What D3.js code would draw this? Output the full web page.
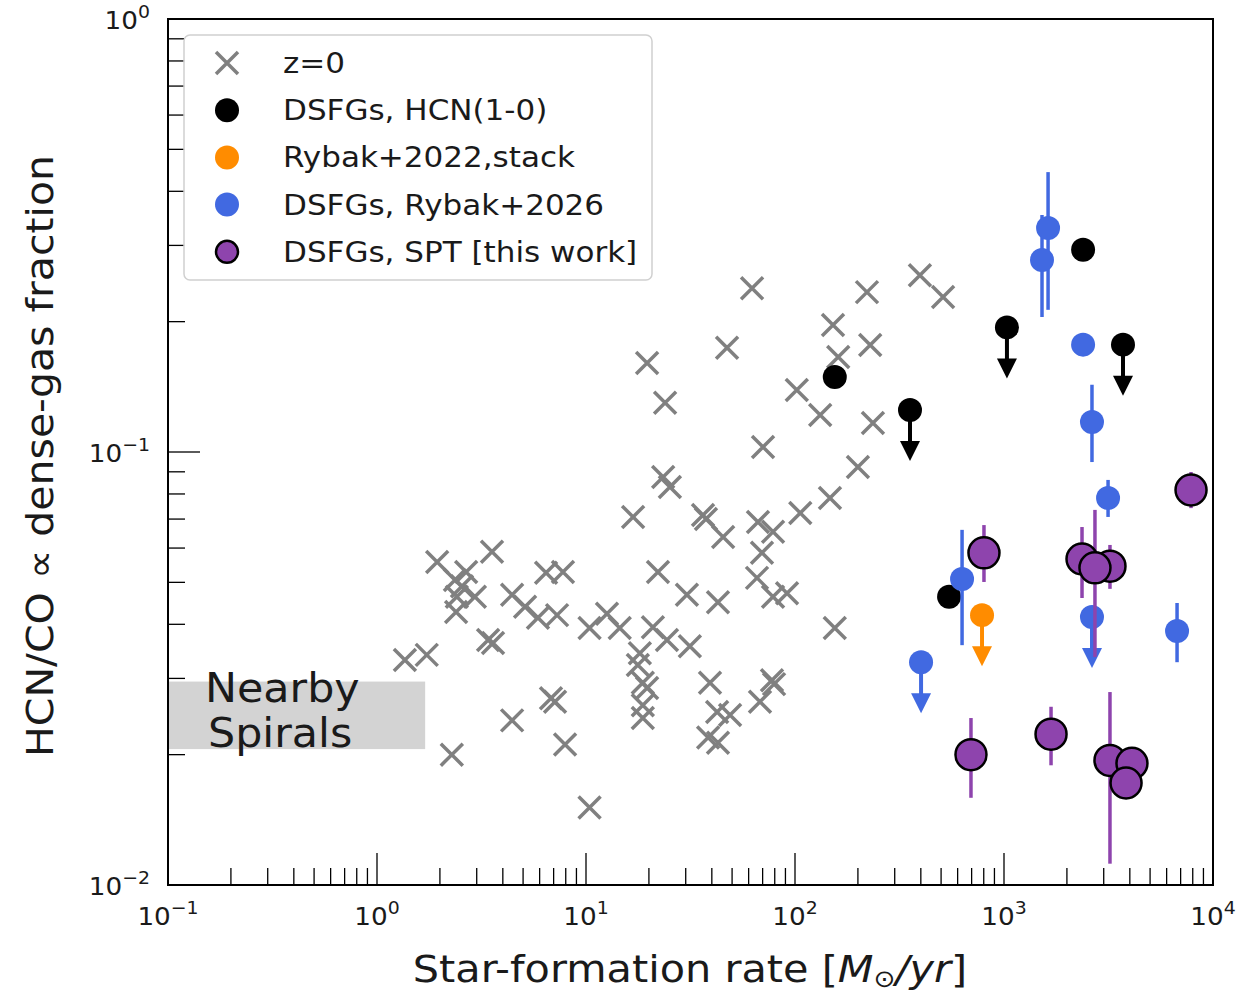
<!DOCTYPE html>
<html>
<head>
<meta charset="utf-8">
<script src="https://cdn.jsdelivr.net/npm/d3@7"></script>
<style>
  body { margin: 0; background: #fff; }
  svg { font-family: "DejaVu Sans", sans-serif; }
</style>
</head>
<body>
<div id="chart"></div>
<script>
// Plot area settings
const margin = { top: 19, right: 30, bottom: 113, left: 168 },
    width = 1243 - margin.left - margin.right,
    height = 998 - margin.top - margin.bottom;

// z=0 galaxies: star-formation rate and HCN/CO
const z0_sfr = [1.36, 1.73, 1.94, 2.28, 2.36, 2.55, 2.41, 2.39, 2.67, 2.94,
    3.55, 3.40, 3.59, 4.43, 4.43, 5.11, 5.89, 6.44, 7.76, 7.27,
    6.80, 7.11, 7.94, 10.4, 10.4, 12.6, 14.5, 16.8, 18.1, 17.7,
    18.7, 19.6, 18.7, 18.7, 19.6, 20.9, 22.1, 23.4, 25.2, 23.9,
    24.4, 31.4, 30.4, 36.3, 37.5, 39.2, 42.4, 48.9, 38.4, 42.8,
    42.8, 45.3, 47.3, 62.3, 65.8, 66.5, 69.5, 70.3, 68.0, 77.6,
    79.4, 78.5, 78.5, 91.6, 102, 106, 132, 147, 152, 155,
    161, 200, 221, 229, 236, 396, 511];
const z0_frac = [0.0331, 0.0340, 0.0557, 0.0200, 0.0506, 0.0490, 0.0463, 0.0427, 0.0528, 0.0463,
    0.0588, 0.0368, 0.0362, 0.0468, 0.0240, 0.0439, 0.0414, 0.0526, 0.0528, 0.0420,
    0.0270, 0.0265, 0.0211, 0.0151, 0.0392, 0.0423, 0.0392, 0.0708, 0.0343, 0.0322,
    0.0293, 0.0285, 0.0260, 0.0243, 0.1605, 0.0394, 0.0528, 0.0875, 0.0830, 0.130,
    0.0368, 0.0356, 0.0468, 0.0715, 0.0700, 0.0293, 0.0251, 0.0247, 0.0219, 0.0213,
    0.0450, 0.0636, 0.174, 0.239, 0.0512, 0.0689, 0.0585, 0.1027, 0.0265, 0.0297,
    0.0291, 0.0654, 0.0463, 0.0472, 0.139, 0.0723, 0.1218, 0.0783, 0.1965, 0.0392,
    0.1658, 0.0923, 0.234, 0.1767, 0.1167, 0.256, 0.228];

// DSFGs, HCN(1-0)
const hcn_sfr = [155, 355, 1033, 2390, 3710, 546];
const hcn_frac = [0.149, 0.125, 0.194, 0.293, 0.177, 0.0463];
const hcn_uplim = [false, true, true, false, true, false];

// Rybak+2022 stack
const stack_sfr = [785];
const stack_frac = [0.042];
const stack_uplim = [true];

// DSFGs, Rybak+2026
const ryb_sfr = [1625, 1520, 2390, 2636, 3147, 630, 401, 2636, 6730];
const ryb_frac = [0.329, 0.2776, 0.177, 0.1173, 0.0783, 0.0509, 0.0327, 0.0416, 0.0386];
const ryb_lo = [0.213, 0.205, null, 0.0948, 0.0708, 0.0358, null, null, 0.0327];
const ryb_hi = [0.443, 0.3526, null, 0.143, 0.0862, 0.0661, null, null, 0.0448];
const ryb_uplim = [false, false, false, false, false, false, true, true, false];

// DSFGs, SPT [this work]
const spt_sfr = [7850, 802, 2362, 3214, 2724, 695, 1679, 3214, 4095, 3837];
const spt_frac = [0.0817, 0.0585, 0.0566, 0.0545, 0.0540, 0.0200, 0.0223, 0.0194, 0.0191, 0.0172];
const spt_lo = [0.0742, 0.0501, 0.0460, 0.0483, 0.0336, 0.0159, 0.0189, 0.0112, null, null];
const spt_hi = [0.0899, 0.0678, 0.0671, 0.0610, 0.0735, 0.0243, 0.0258, 0.0279, null, null];

// Nearby spirals band
const spiral_sfr = [0.1, 1.7];
const spiral_frac = [0.0206, 0.0295];

// Axis ticks
const xMajor = [0.1, 1, 10, 100, 1000, 10000];
const xExp = ["\u22121", "0", "1", "2", "3", "4"];
const yMajor = [0.01, 0.1, 1];
const yExp = ["\u22122", "\u22121", "0"];

const legendLabels = ["z=0", "DSFGs, HCN(1-0)", "Rybak+2022,stack", "DSFGs, Rybak+2026", "DSFGs, SPT [this work]"];

const BLUE = "#4169e1", PURPLE = "#8e44ad", ORANGE = "#ff8c00", GRAY = "#808080";
const TXT = "#1a1a1a";

const svg = d3.select("#chart").append("svg")
    .attr("width", 1243)
    .attr("height", 998);

const g = svg.append("g")
    .attr("transform", `translate(${margin.left},${margin.top})`);

const x = d3.scaleLog().domain([0.1, 10000]).range([0, width]);
const y = d3.scaleLog().domain([0.01, 1]).range([height, 0]);

// text helper with a slight horizontal stretch, like the original figure
function stretchText(parent, px, py, sx, size) {
    return parent.append("text")
        .attr("transform", `translate(${px},${py}) scale(${sx},1)`)
        .attr("font-size", size)
        .attr("fill", TXT);
}

// clip for data
g.append("clipPath").attr("id", "clip")
    .append("rect").attr("width", width).attr("height", height);
const plot = g.append("g").attr("clip-path", "url(#clip)");

// Nearby spirals box
plot.append("rect")
    .attr("x", x(spiral_sfr[0]))
    .attr("y", y(spiral_frac[1]))
    .attr("width", x(spiral_sfr[1]) - x(spiral_sfr[0]))
    .attr("height", y(spiral_frac[0]) - y(spiral_frac[1]))
    .attr("fill", "#d3d3d3");

// minor ticks
function minors(lo, hi) {
    const out = [];
    for (let e = lo; e < hi; e++) {
        for (let k = 2; k <= 9; k++) out.push(k * Math.pow(10, e));
    }
    return out;
}
const xMinor = minors(-1, 4);
const yMinor = minors(-2, 0);

const ticks = g.append("g").attr("stroke", "#000").attr("stroke-width", 1.3);
ticks.selectAll(".xmin").data(xMinor).join("line")
    .attr("x1", d => x(d)).attr("x2", d => x(d))
    .attr("y1", height).attr("y2", height - 17);
ticks.selectAll(".xmaj").data(xMajor).join("line")
    .attr("x1", d => x(d)).attr("x2", d => x(d))
    .attr("y1", height).attr("y2", height - 32);
ticks.selectAll(".ymin").data(yMinor).join("line")
    .attr("x1", 0).attr("x2", 17)
    .attr("y1", d => y(d)).attr("y2", d => y(d));
ticks.selectAll(".ymaj").data(yMajor).join("line")
    .attr("x1", 0).attr("x2", 32)
    .attr("y1", d => y(d)).attr("y2", d => y(d));

// tick labels
xMajor.forEach((d, i) => {
    const t = stretchText(g, x(d), height + 40, 1.05, 25).attr("text-anchor", "middle");
    t.append("tspan").text("10");
    t.append("tspan").attr("dy", -11).attr("font-size", 18).text(xExp[i]);
});
yMajor.forEach((d, i) => {
    const t = stretchText(g, -18, y(d) + 10, 1.05, 25).attr("text-anchor", "end");
    t.append("tspan").text("10");
    t.append("tspan").attr("dy", -11).attr("font-size", 18).text(yExp[i]);
});

// z=0 crosses
const cr = 11;
plot.append("g").selectAll("path").data(z0_sfr).join("path")
    .attr("d", (d, i) => {
        const cx = x(d), cy = y(z0_frac[i]);
        return `M${cx - cr},${cy - cr}L${cx + cr},${cy + cr}M${cx - cr},${cy + cr}L${cx + cr},${cy - cr}`;
    })
    .attr("stroke", GRAY)
    .attr("stroke-width", 3.5)
    .attr("fill", "none");

// upper-limit arrow
function arrow(layer, cx, cy, color) {
    layer.append("line")
        .attr("x1", cx).attr("x2", cx)
        .attr("y1", cy).attr("y2", cy + 34)
        .attr("stroke", color).attr("stroke-width", 4);
    layer.append("path")
        .attr("d", `M${cx - 10},${cy + 31}L${cx + 10},${cy + 31}L${cx},${cy + 51}Z`)
        .attr("fill", color);
}

function errbars(layer, xs, lo, hi, color) {
    layer.selectAll(null).data(xs.map((d, i) => i).filter(i => lo[i] != null)).join("line")
        .attr("x1", i => x(xs[i])).attr("x2", i => x(xs[i]))
        .attr("y1", i => y(hi[i])).attr("y2", i => y(lo[i]))
        .attr("stroke", color).attr("stroke-width", 3.5);
}

// HCN(1-0)
const hcnG = plot.append("g");
hcn_sfr.forEach((d, i) => {
    if (hcn_uplim[i]) arrow(hcnG, x(d), y(hcn_frac[i]), "#000");
});
hcnG.selectAll("circle").data(hcn_sfr).join("circle")
    .attr("cx", d => x(d)).attr("cy", (d, i) => y(hcn_frac[i]))
    .attr("r", 12).attr("fill", "#000");

// stack
const stG = plot.append("g");
stack_sfr.forEach((d, i) => {
    if (stack_uplim[i]) arrow(stG, x(d), y(stack_frac[i]), ORANGE);
});
stG.selectAll("circle").data(stack_sfr).join("circle")
    .attr("cx", d => x(d)).attr("cy", (d, i) => y(stack_frac[i]))
    .attr("r", 12).attr("fill", ORANGE);

// Rybak+2026
const rbG = plot.append("g");
errbars(rbG, ryb_sfr, ryb_lo, ryb_hi, BLUE);
ryb_sfr.forEach((d, i) => {
    if (ryb_uplim[i]) arrow(rbG, x(d), y(ryb_frac[i]), BLUE);
});
rbG.selectAll("circle").data(ryb_sfr).join("circle")
    .attr("cx", d => x(d)).attr("cy", (d, i) => y(ryb_frac[i]))
    .attr("r", 12).attr("fill", BLUE);

// SPT
const sptG = plot.append("g");
errbars(sptG, spt_sfr, spt_lo, spt_hi, PURPLE);
sptG.selectAll("circle").data(spt_sfr).join("circle")
    .attr("cx", d => x(d)).attr("cy", (d, i) => y(spt_frac[i]))
    .attr("r", 15.5).attr("fill", PURPLE)
    .attr("stroke", "#000").attr("stroke-width", 2.5);

// frame
g.append("rect")
    .attr("width", width).attr("height", height)
    .attr("fill", "none").attr("stroke", "#000").attr("stroke-width", 2);

// Nearby spirals text
const spx = x(spiral_sfr[0]);
stretchText(g, spx + 37, y(spiral_frac[1]) + 20, 1.07, 40).text("Nearby");
stretchText(g, spx + 40, y(spiral_frac[0]) - 2, 1.07, 40).text("Spirals");

// legend
const lg = g.append("g").attr("transform", "translate(16,16)");
lg.append("rect")
    .attr("width", 468).attr("height", 245)
    .attr("rx", 6)
    .attr("fill", "#fff").attr("fill-opacity", 0.85)
    .attr("stroke", "#d0d0d0").attr("stroke-width", 1.5);
legendLabels.forEach((lab, i) => {
    const ly = 28 + i * 47.2, mx = 43;
    if (i === 0) {
        lg.append("path")
            .attr("d", `M${mx - 11},${ly - 11}L${mx + 11},${ly + 11}M${mx - 11},${ly + 11}L${mx + 11},${ly - 11}`)
            .attr("stroke", GRAY).attr("stroke-width", 3.5);
    } else if (i === 4) {
        lg.append("circle").attr("cx", mx).attr("cy", ly).attr("r", 11)
            .attr("fill", PURPLE).attr("stroke", "#000").attr("stroke-width", 2.5);
    } else {
        lg.append("circle").attr("cx", mx).attr("cy", ly).attr("r", 12)
            .attr("fill", ["#000", ORANGE, BLUE][i - 1]);
    }
    stretchText(lg, 99, ly + 10, 1.07, 29).text(lab);
});

// axis labels
const xt = stretchText(svg, 690, 982, 1.09, 38).attr("text-anchor", "middle");
xt.append("tspan").text("Star-formation rate [");
xt.append("tspan").attr("font-style", "italic").text("M");
xt.append("tspan").attr("font-size", 24).attr("dy", 5).text("\u2299");
xt.append("tspan").attr("dy", -5).attr("font-style", "italic").text("/yr");
xt.append("tspan").text("]");

svg.append("text")
    .attr("transform", "translate(53,456) rotate(-90) scale(1.08,1)")
    .attr("text-anchor", "middle")
    .attr("font-size", 38).attr("fill", TXT)
    .text("HCN/CO \u221d dense-gas fraction");
</script>
</body>
</html>
